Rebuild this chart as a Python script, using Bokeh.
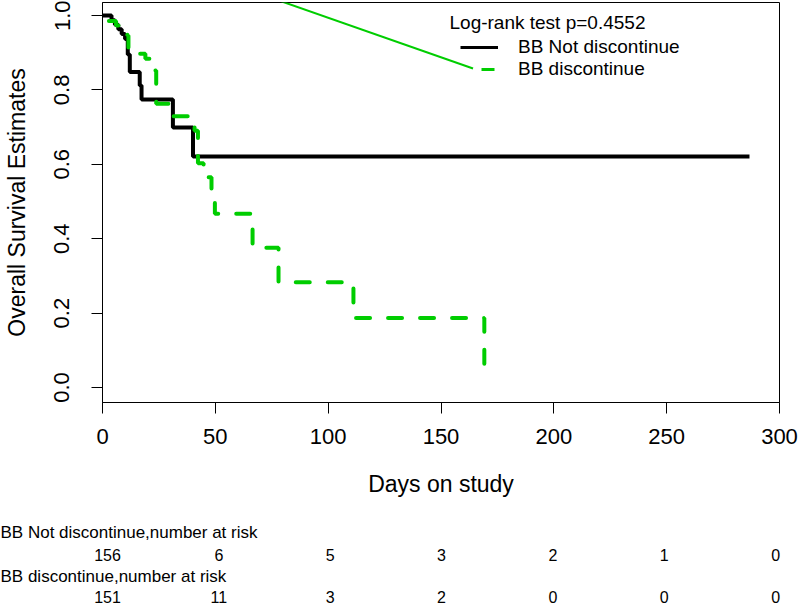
from bokeh.plotting import figure
from bokeh.layouts import column
from bokeh.models import Range1d, Label, Legend, LegendItem, FixedTicker, PrintfTickFormatter
from bokeh.core.properties import value
from bokeh.embed import file_html
from bokeh.resources import INLINE

# ---- data ----
black_t = [0, 4, 5.5, 7, 8.5, 10, 11.2, 12.1, 16.5, 17.3, 31.2, 40.1, 286.7]
black_s = [1.0, 0.987, 0.975, 0.963, 0.95, 0.937, 0.895, 0.848, 0.812, 0.774, 0.699, 0.621, 0.621]

green_t = [0, 1, 2.5, 6, 11, 11.5, 14, 19, 22.4, 23.8, 31.5, 40.8, 42.3, 44.8, 48.3, 49.8, 66.5, 78, 111.2, 169.2]
green_s = [1.0, 0.993, 0.985, 0.973, 0.946, 0.91, 0.897, 0.884, 0.852, 0.763, 0.729, 0.69, 0.603, 0.565, 0.52, 0.467, 0.376, 0.283, 0.187, 0.062]

stray_x = [78.3, 164.2]
stray_y = [1.04, 0.8575]

x_ticks = [0, 50, 100, 150, 200, 250, 300]
y_ticks = [0.0, 0.2, 0.4, 0.6, 0.8, 1.0]

risk_times = [0, 50, 100, 150, 200, 250, 300]
risk_not = [156, 6, 5, 3, 2, 1, 0]
risk_dis = [151, 11, 3, 2, 0, 0, 0]

group_names = ["BB Not discontinue", "BB discontinue"]
test_text = "Log-rank test p=0.4552"

GREEN = "#00CD00"
FONT = "Liberation Sans"

# ---------------- main survival plot ----------------
p = figure(width=800, height=510, output_backend="svg", toolbar_location=None,
           x_range=Range1d(0, 300), y_range=Range1d(-0.0403, 1.0349),
           min_border_left=101, min_border_right=21, min_border_top=2, min_border_bottom=108,
           background_fill_color="white", border_fill_color="white", frame_align=False)
p.grid.visible = False
p.outline_line_color = "black"
p.outline_line_width = 1

for ax in (p.xaxis[0], p.yaxis[0]):
    ax.axis_line_color = "black"
    ax.major_tick_line_color = "black"
    ax.major_tick_out = 11
    ax.major_tick_in = 0
    ax.minor_tick_line_color = None
    ax.major_label_text_font = FONT
    ax.major_label_text_font_size = "22px"
    ax.major_label_text_color = "black"
    ax.axis_label_text_font = FONT
    ax.axis_label_text_font_size = "23px"
    ax.axis_label_text_font_style = "normal"
    ax.axis_label_text_color = "black"

p.xaxis.ticker = FixedTicker(ticks=x_ticks)
p.yaxis.ticker = FixedTicker(ticks=y_ticks)
p.yaxis.formatter = PrintfTickFormatter(format="%.1f")
p.yaxis.major_label_orientation = "vertical"
p.xaxis.axis_label = "Days on study"
p.yaxis.axis_label = "Overall Survival Estimates"
p.xaxis.major_label_standoff = 15
p.xaxis.axis_label_standoff = 24
p.yaxis.major_label_standoff = 22
p.yaxis.axis_label_standoff = 22

# curves
p.step(black_t, black_s, mode="after", line_color="black", line_width=4)
p.step(green_t, green_s, mode="after", line_color=GREEN, line_width=4,
       line_dash="14 18", line_dash_offset=20, line_cap="round")
p.line(stray_x, stray_y, line_color=GREEN, line_width=2)

# legend (key renderers sit outside the visible ranges)
leg_black = p.line(x=[-20, -10], y=[-1, -1], line_color="black", line_width=3)
leg_green = p.line(x=[-20, -10], y=[-1, -1], line_color=GREEN, line_width=3,
                   line_dash="0 21 13 100", line_cap="butt")
legend = Legend(items=[LegendItem(label=group_names[0], renderers=[leg_black]),
                       LegendItem(label=group_names[1], renderers=[leg_green])],
                location=(358, 322), padding=0, spacing=0, margin=0,
                glyph_width=38, glyph_height=22, label_height=22, label_standoff=20,
                label_text_font=FONT, label_text_font_size="19px", label_text_color="black",
                border_line_color=None, background_fill_alpha=0)
p.add_layout(legend)

p.add_layout(Label(x=347, y=380, x_units="screen", y_units="screen", text=test_text,
                   text_font=FONT, text_font_size="19px", text_baseline="middle",
                   text_color="black"))

# ---------------- number-at-risk table ----------------
px_per_day = 2.227
left_px = 107
x0 = -left_px / px_per_day
x1 = (800 - left_px) / px_per_day
t2 = figure(width=800, height=94, output_backend="svg", toolbar_location=None,
            x_range=Range1d(x0, x1), y_range=Range1d(604, 510),
            min_border_left=0, min_border_right=0, min_border_top=0, min_border_bottom=0,
            x_axis_location=None, y_axis_location=None, frame_align=False,
            outline_line_color=None, background_fill_color="white", border_fill_color="white")
t2.grid.visible = False

row_y = [532, 554, 576, 596]
t2.text(x=[x0, x0], y=[row_y[0], row_y[2]],
        text=[group_names[0] + ",number at risk", group_names[1] + ",number at risk"],
        text_font=value(FONT), text_font_size="17px", text_baseline="middle",
        text_align="left", text_color="black")
t2.text(x=risk_times, y=[row_y[1]] * len(risk_times), text=[str(v) for v in risk_not],
        text_font=value(FONT), text_font_size="16px",
        text_baseline="middle", text_align="center", text_color="black")
t2.text(x=risk_times, y=[row_y[3]] * len(risk_times), text=[str(v) for v in risk_dis],
        text_font=value(FONT), text_font_size="16px",
        text_baseline="middle", text_align="center", text_color="black")

layout = column(p, t2, spacing=0)
open("out.html", "w").write(file_html(layout, INLINE))
